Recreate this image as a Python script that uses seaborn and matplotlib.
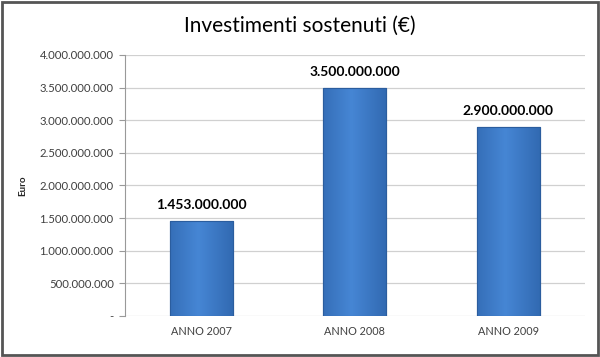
import numpy as np
import pandas as pd
import seaborn as sns
import matplotlib.pyplot as plt
from matplotlib.patches import Rectangle
from matplotlib.colors import LinearSegmentedColormap

# Chart data
categories = ['ANNO 2007', 'ANNO 2008', 'ANNO 2009']
values = [1453000000, 3500000000, 2900000000]
value_labels = ['1.453.000.000', '3.500.000.000', '2.900.000.000']
tick_values = [0, 500000000, 1000000000, 1500000000, 2000000000,
               2500000000, 3000000000, 3500000000, 4000000000]
tick_labels = ['-', '500.000.000', '1.000.000.000', '1.500.000.000',
               '2.000.000.000', '2.500.000.000', '3.000.000.000',
               '3.500.000.000', '4.000.000.000']

df = pd.DataFrame({'anno': categories, 'euro': values})

sns.set_style('white')
plt.rcParams['font.family'] = ['Lato', 'DejaVu Sans']

fig = plt.figure(figsize=(6, 3.57), dpi=100)
ax = fig.add_axes([0.208, 0.115, 0.767, 0.731])

sns.barplot(data=df, x='anno', y='euro', color='#3d7ccc', width=0.41,
            edgecolor='#2b5d9e', linewidth=0.8, ax=ax, zorder=3)

# horizontal gradient on each bar, a bit like the Excel look
grad = np.linspace(0, 1, 64)
grad = 1 - np.abs(grad - 0.45) * 1.4
grad = np.tile(grad, (2, 1))
cmap = LinearSegmentedColormap.from_list('bar', ['#2c62a9', '#4686d4'])
for p in ax.patches:
    x0, y0 = p.get_x(), p.get_y()
    w, h = p.get_width(), p.get_height()
    im = ax.imshow(grad, cmap=cmap, aspect='auto', extent=[x0, x0 + w, y0, y0 + h],
                   zorder=3.5, vmin=0, vmax=1)
    im.set_clip_path(p)
    ax.add_patch(Rectangle((x0, y0), w, h, fill=False, edgecolor='#2b5d9e',
                           linewidth=0.8, zorder=4))

ax.set_xlim(-0.5, 2.5)
ax.set_ylim(0, 4000000000)
ax.set_yticks(tick_values)
ax.set_yticklabels(tick_labels, fontsize=8.2, color='#404040')
ax.tick_params(axis='x', labelsize=7.8, labelcolor='#404040', length=0, pad=7)
ax.tick_params(axis='y', length=4, width=0.8, color='#999999', left=True, pad=4)
ax.yaxis.grid(True, color='#d0d0d0', linewidth=0.9, zorder=0)
ax.set_axisbelow(True)

for s in ['top', 'right', 'bottom']:
    ax.spines[s].set_visible(False)
ax.spines['left'].set_color('#999999')
ax.spines['left'].set_linewidth(0.8)

ax.set_xlabel('')
ax.set_ylabel('Euro', fontsize=7, fontweight='bold', labelpad=9)

for i, (v, lab) in enumerate(zip(values, value_labels)):
    ax.text(i, v + 150000000, lab, ha='center', va='bottom',
            fontsize=10, fontweight='bold', color='black')

fig.suptitle('Investimenti sostenuti (€)', y=0.955, fontsize=15, color='black')

fig.patches.append(Rectangle((0.004, 0.006), 0.992, 0.988, transform=fig.transFigure,
                             fill=False, edgecolor='#555555', linewidth=2))

fig.savefig('out.png', dpi=100)
